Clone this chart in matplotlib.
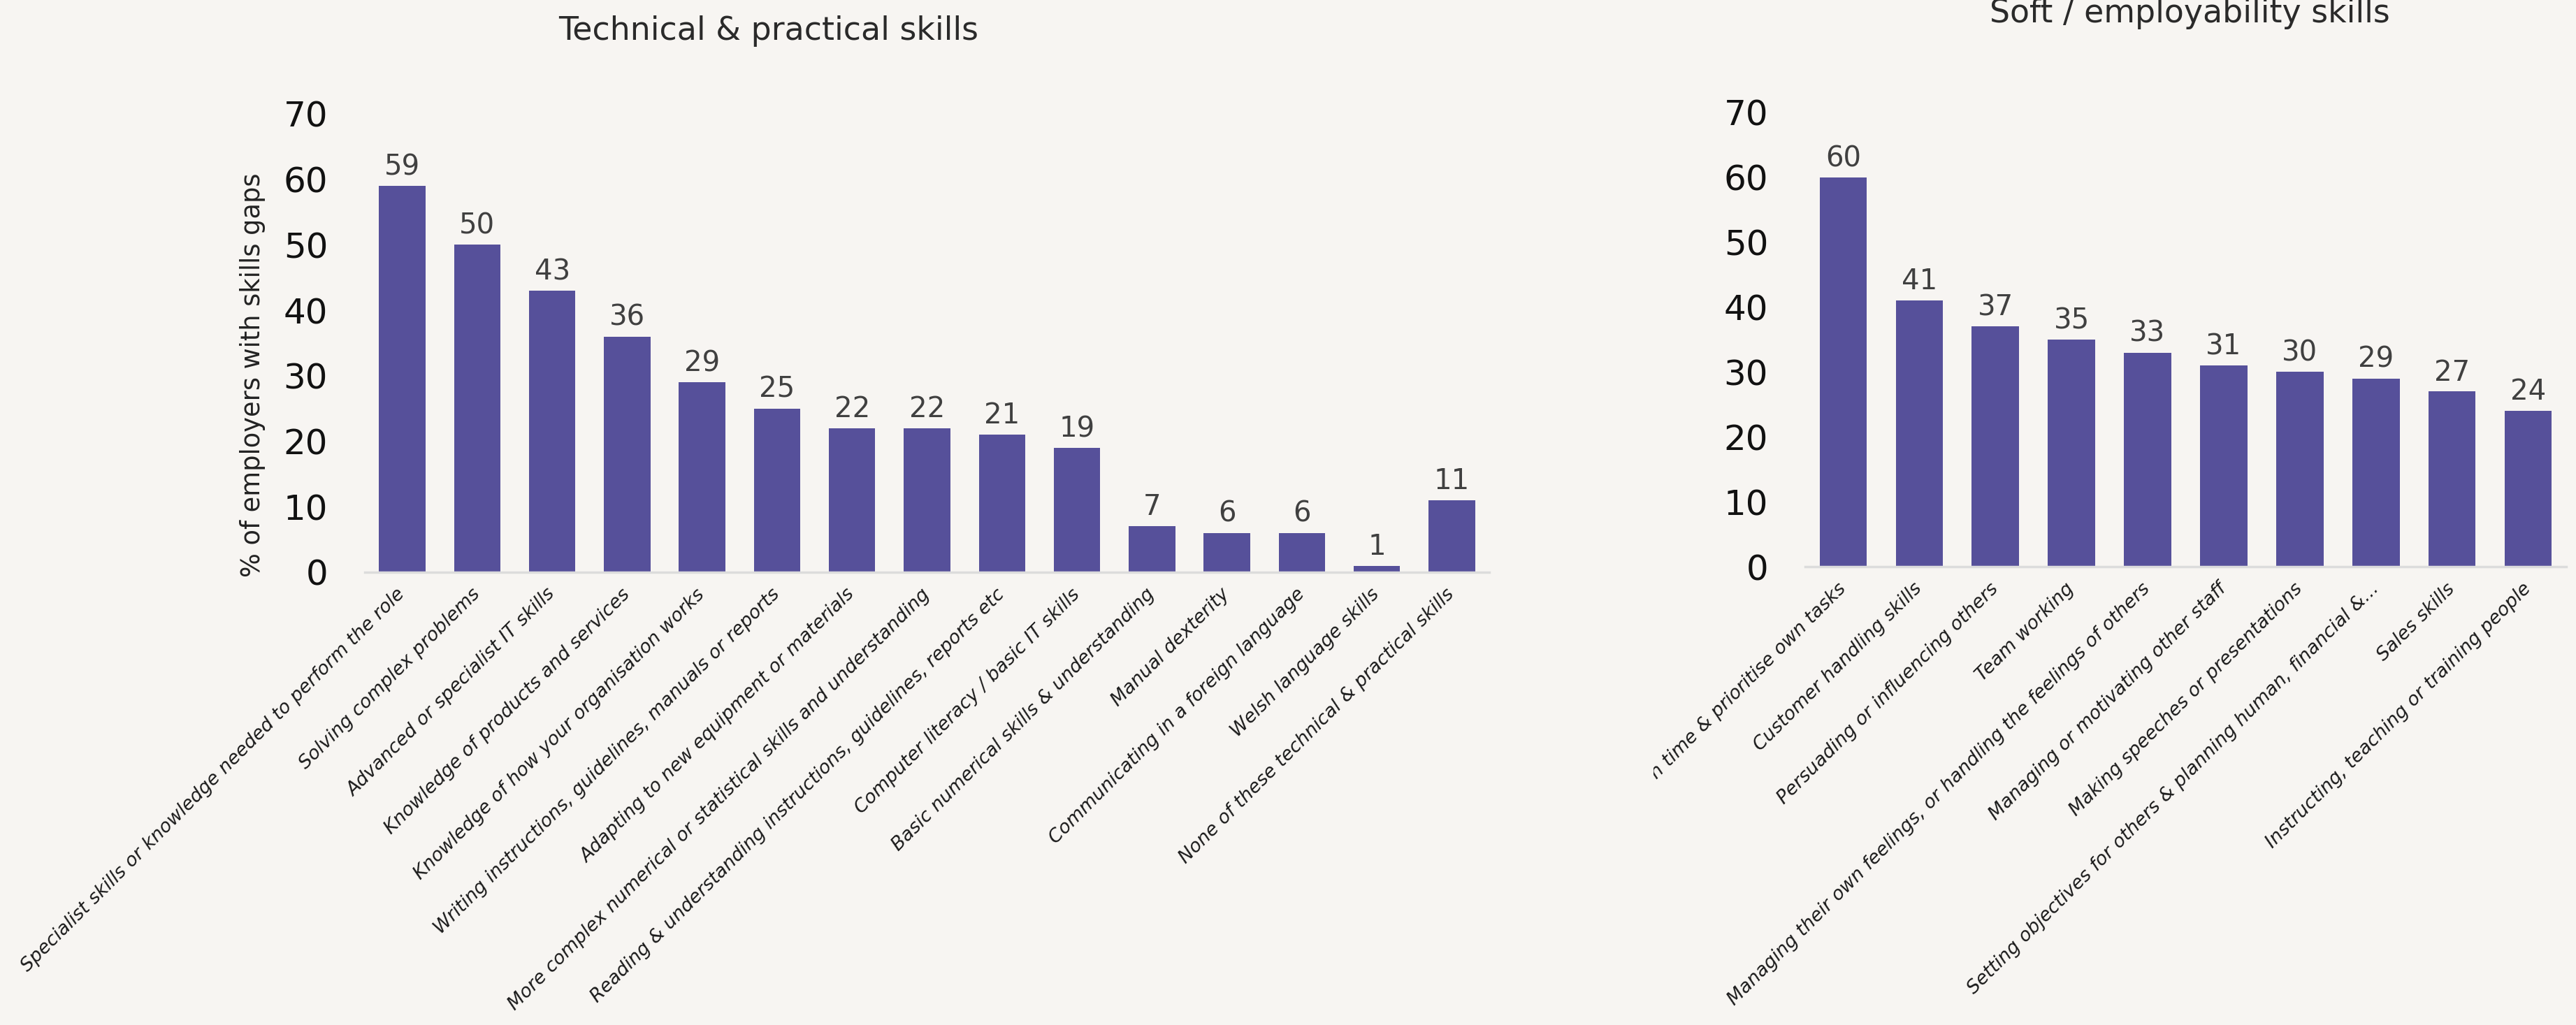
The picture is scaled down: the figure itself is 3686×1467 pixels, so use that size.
import numpy as np
import matplotlib
matplotlib.use('Agg')
import matplotlib.pyplot as plt
from matplotlib.transforms import Bbox, TransformedBbox

# Share of employers with skills gaps, by type of skill lacking
tech_skills = ['Specialist skills or knowledge needed to perform the role',
               'Solving complex problems',
               'Advanced or specialist IT skills',
               'Knowledge of products and services',
               'Knowledge of how your organisation works',
               'Writing instructions, guidelines, manuals or reports',
               'Adapting to new equipment or materials',
               'More complex numerical or statistical skills and understanding',
               'Reading & understanding instructions, guidelines, reports etc',
               'Computer literacy / basic IT skills',
               'Basic numerical skills & understanding',
               'Manual dexterity',
               'Communicating in a foreign language',
               'Welsh language skills',
               'None of these technical & practical skills']
tech_pct = [59, 50, 43, 36, 29, 25, 22, 22, 21, 19, 7, 6, 6, 1, 11]

soft_skills = ['Managing own time & prioritise own tasks',
               'Customer handling skills',
               'Persuading or influencing others',
               'Team working',
               'Managing their own feelings, or handling the feelings of others',
               'Managing or motivating other staff',
               'Making speeches or presentations',
               'Setting objectives for others & planning human, financial &...',
               'Sales skills',
               'Instructing, teaching or training people']
soft_pct = [60, 41, 37, 35, 33, 31, 30, 29, 27, 24]

y_ticks = [0, 10, 20, 30, 40, 50, 60, 70]

BAR = '#56509a'
BG = '#f7f5f2'

plt.rcParams['font.family'] = 'DejaVu Sans'

W, H = 3687, 1467
fig = plt.figure(figsize=(W/100, H/100), dpi=100, facecolor=BG)

def pxAxes(x0, x1, ybase, ytop):
    '''
    axes from pixel edges (y measured from the top of the figure)
    '''
    return fig.add_axes([x0/W, 1-ybase/H, (x1-x0)/W, (ybase-ytop)/H])

def drawBars(ax, labels, values):
    x = np.arange(len(values))
    ax.bar(x, values, width=0.62, color=BAR, zorder=2)
    for xi, v in zip(x, values):
        ax.text(xi, v + 1.7, str(v), ha='center', va='baseline',
                fontsize=29, color='#404040')
    ax.set_xlim(-0.5, len(values) - 0.5)
    ax.set_ylim(0, 70)
    ax.set_yticks(y_ticks)
    ax.set_xticks(x)
    ax.set_xticklabels(labels, rotation=45, ha='right', va='center',
                       rotation_mode='anchor', fontsize=19.3, style='italic',
                       color='#1a1a1a')
    ax.tick_params(axis='x', length=0, pad=20)
    ax.tick_params(axis='y', length=0, pad=38, labelsize=36, labelcolor='#111111')
    for s in ['top', 'right', 'left']:
        ax.spines[s].set_visible(False)
    ax.spines['bottom'].set_color('#dcdcdc')
    ax.spines['bottom'].set_linewidth(2.5)
    ax.patch.set_visible(False)
    return ax

axL = drawBars(pxAxes(522, 2131, 819, 163), tech_skills, tech_pct)
axL.set_ylabel('% of employers with skills gaps', fontsize=26.5, color='#222222')
axL.yaxis.set_label_coords(-0.088, 0.43)

axR = drawBars(pxAxes(2583, 3672, 811, 161), soft_skills, soft_pct)
# the soft skills labels are cut off on the left
clip = TransformedBbox(Bbox([[2366/W, 0], [1, 1]]), fig.transFigure)
for lab in axR.get_xticklabels():
    lab.set_clip_box(clip)
    lab.set_clip_on(True)

fig.text(1100/W, 1-57/H, 'Technical & practical skills', ha='center', va='baseline',
         fontsize=33, color='#2a2a2a')
fig.text(3133/W, 1-32/H, 'Soft / employability skills', ha='center', va='baseline',
         fontsize=33, color='#2a2a2a')

fig.savefig('out.png', dpi=100, facecolor=BG)
